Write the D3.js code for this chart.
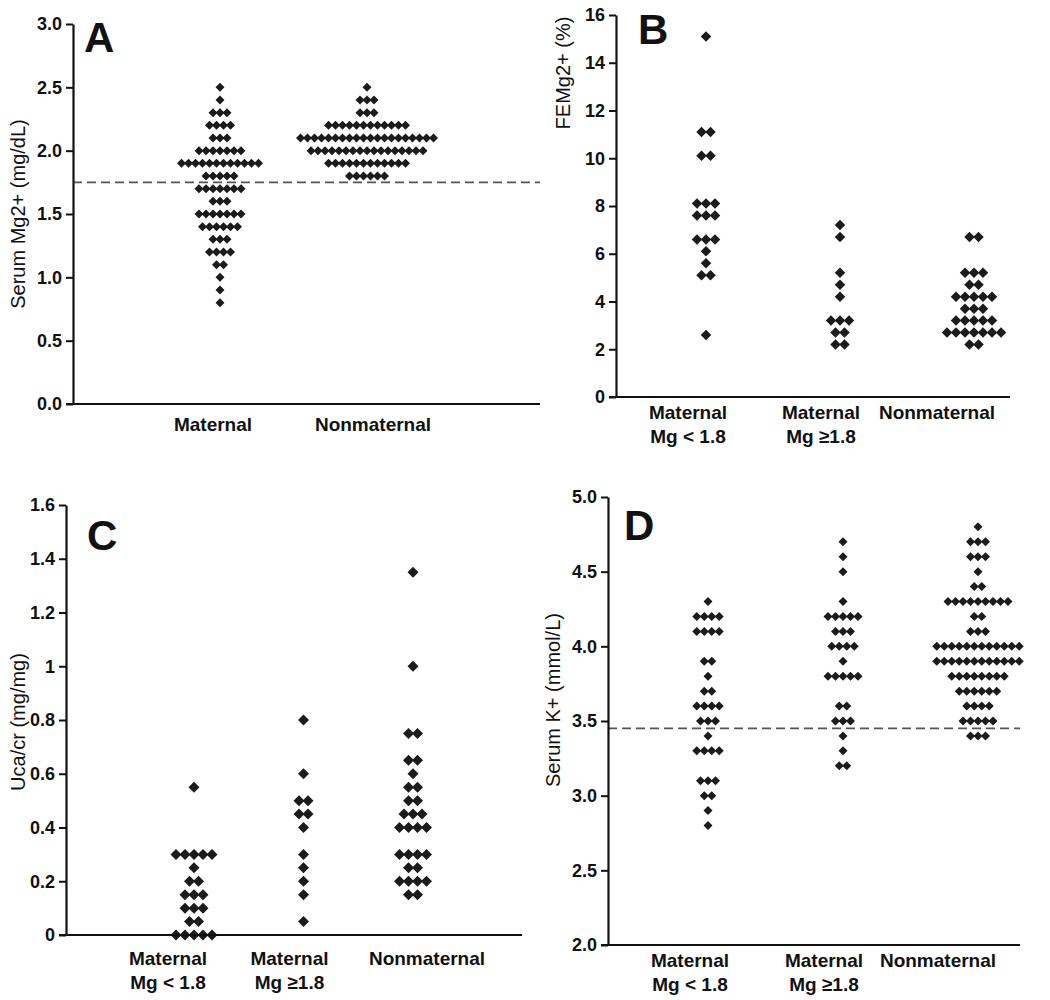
<!DOCTYPE html>
<html><head><meta charset="utf-8">
<script src="https://cdn.jsdelivr.net/npm/d3@7"></script>
<style>
body{margin:0;background:#fff}
text{font-family:Arial,"Liberation Sans",sans-serif;fill:#111}
</style>
</head><body>
<svg id="chart" width="1050" height="1000"></svg>
<script>
// ---------------- DATA ----------------
// Panel A: Serum Mg2+ (mg/dL)
const aCategories = ["Maternal", "Nonmaternal"];
const aTicks = [0, 0.5, 1.0, 1.5, 2.0, 2.5, 3.0];
const aMaternalLevels = [2.5,2.4,2.3,2.2,2.1,2.0,1.9,1.8,1.7,1.6,1.5,1.4,1.3,1.2,1.1,1.0,0.9,0.8];
const aMaternalCounts = [1,1,3,4,3,7,12,5,7,3,7,6,3,4,2,1,1,1];
const aNonmaternalLevels = [2.5,2.4,2.3,2.2,2.1,2.0,1.9,1.8];
const aNonmaternalCounts = [1,3,3,12,20,17,12,6];
const aCutoff = 1.75;

// Panel B: FEMg2+ (%)
const bCategories = [["Maternal","Mg < 1.8"], ["Maternal","Mg \u22651.8"], ["Nonmaternal"]];
const bTicks = [0,2,4,6,8,10,12,14,16];
const bLowLevels = [15.1,11.1,10.1,8.1,7.6,6.6,6.1,5.6,5.1,2.6];
const bLowCounts = [1,2,2,3,3,3,1,1,2,1];
const bHighLevels = [7.2,6.7,5.2,4.7,4.2,3.2,2.7,2.2];
const bHighCounts = [1,1,1,1,1,3,2,2];
const bNonLevels = [6.7,5.2,4.7,4.2,3.7,3.2,2.7,2.2];
const bNonCounts = [2,3,2,5,3,5,7,2];

// Panel C: Uca/cr (mg/mg)
const cCategories = bCategories;
const cTicks = [0,0.2,0.4,0.6,0.8,1.0,1.2,1.4,1.6];
const cLowLevels = [0.55,0.3,0.25,0.2,0.15,0.1,0.05,0];
const cLowCounts = [1,5,1,2,3,3,2,5];
const cHighLevels = [0.8,0.6,0.5,0.45,0.4,0.3,0.25,0.2,0.15,0.05];
const cHighCounts = [1,1,2,2,1,1,1,1,1,1];
const cNonLevels = [1.35,1.0,0.75,0.65,0.6,0.55,0.5,0.45,0.4,0.3,0.25,0.2,0.15];
const cNonCounts = [1,1,2,2,1,2,2,3,4,4,2,4,2];

// Panel D: Serum K+ (mmol/L)
const dCategories = bCategories;
const dTicks = [2.0,2.5,3.0,3.5,4.0,4.5,5.0];
const dLowLevels = [4.3,4.2,4.1,3.9,3.8,3.7,3.6,3.5,3.4,3.3,3.1,3.0,2.9,2.8];
const dLowCounts = [1,4,4,2,1,2,4,3,1,4,3,2,1,1];
const dHighLevels = [4.7,4.6,4.5,4.3,4.2,4.1,4.0,3.9,3.8,3.6,3.5,3.4,3.3,3.2];
const dHighCounts = [1,1,1,1,5,3,4,1,5,2,3,1,1,2];
const dNonLevels = [4.8,4.7,4.6,4.5,4.4,4.3,4.2,4.1,4.0,3.9,3.8,3.7,3.6,3.5,3.4];
const dNonCounts = [1,3,3,1,2,9,2,3,12,12,8,6,4,5,3];
const dCutoff = 3.45;

// ---------------- DRAWING ----------------
const svg = d3.select("#chart");

function drawPanel(p) {
  const g = svg.append("g");
  const y = d3.scaleLinear().domain(p.yDomain).range([p.yBottom, p.yTop]);
  const keys = p.categories.map((c, i) => i);
  const x = d3.scalePoint().domain(keys).range(p.colRange);

  if (p.cutoff != null) {
    g.append("line")
      .attr("x1", p.axisX).attr("x2", p.xRight)
      .attr("y1", y(p.cutoff)).attr("y2", y(p.cutoff))
      .attr("stroke", "#555").attr("stroke-width", 1.8)
      .attr("stroke-dasharray", "9,5");
  }

  const dots = [];
  p.series.forEach((s, ci) => {
    s.levels.forEach((v, ri) => {
      const n = s.counts[ri];
      for (let k = 0; k < n; k++) {
        dots.push({ x: x(ci) + (k - (n - 1) / 2) * p.spacing, y: y(v) });
      }
    });
  });
  const h = p.dot / 2;
  g.selectAll("path.dot").data(dots).enter().append("path")
    .attr("class", "dot")
    .attr("d", d => `M${d.x},${d.y - h}L${d.x + h},${d.y}L${d.x},${d.y + h}L${d.x - h},${d.y}Z`)
    .attr("fill", "#1b1b1b");

  const ax = d3.axisLeft(y).tickValues(p.ticks).tickFormat(p.fmt)
    .tickSize(7).tickSizeOuter(0).tickPadding(4);
  const axg = g.append("g").attr("transform", `translate(${p.axisX},0)`).call(ax);
  axg.select(".domain").attr("stroke", "#111").attr("stroke-width", 2.2);
  axg.selectAll(".tick line").attr("stroke", "#111").attr("stroke-width", 2);
  axg.selectAll(".tick text").attr("font-size", 18).attr("font-weight", "bold")
    .attr("font-family", "Arial, 'Liberation Sans', sans-serif").attr("fill", "#111");

  g.append("line")
    .attr("x1", p.axisX - 7).attr("x2", p.xRight)
    .attr("y1", y(p.yDomain[0])).attr("y2", y(p.yDomain[0]))
    .attr("stroke", "#111").attr("stroke-width", 2.2);

  p.categories.forEach((lines, ci) => {
    const t = g.append("text")
      .attr("x", x(ci) + p.labelDx[ci])
      .attr("y", y(p.yDomain[0]) + p.labelDy)
      .attr("text-anchor", "middle").attr("font-size", 19).attr("font-weight", "bold");
    (Array.isArray(lines) ? lines : [lines]).forEach((ln, li) => {
      t.append("tspan").attr("x", x(ci) + p.labelDx[ci]).attr("dy", li === 0 ? 0 : 24).text(ln);
    });
  });

  g.append("text")
    .attr("transform", `translate(${p.titleX},${p.titleY}) rotate(-90)`)
    .attr("text-anchor", "middle").attr("dy", "0.35em")
    .attr("font-size", 20).text(p.title);

  g.append("text").attr("x", p.letterX).attr("y", p.letterY)
    .attr("font-size", 42).attr("font-weight", "bold").text(p.letter);
}

drawPanel({
  letter: "A", letterX: 84, letterY: 52,
  title: "Serum Mg2+ (mg/dL)", titleX: 18, titleY: 214,
  yDomain: [0, 3], yTop: 24, yBottom: 404, axisX: 73, xRight: 540,
  ticks: aTicks, fmt: d3.format(".1f"),
  categories: aCategories, colRange: [220, 367], labelDx: [-7, 6], labelDy: 27,
  series: [{levels: aMaternalLevels, counts: aMaternalCounts},
           {levels: aNonmaternalLevels, counts: aNonmaternalCounts}],
  cutoff: aCutoff, dot: 9, spacing: 7
});

drawPanel({
  letter: "B", letterX: 638, letterY: 44,
  title: "FEMg2+ (%)", titleX: 563, titleY: 73,
  yDomain: [0, 16], yTop: 15, yBottom: 397, axisX: 616, xRight: 1010,
  ticks: bTicks, fmt: d3.format("d"),
  categories: bCategories, colRange: [706, 974], labelDx: [-18, -19, -37], labelDy: 22,
  series: [{levels: bLowLevels, counts: bLowCounts},
           {levels: bHighLevels, counts: bHighCounts},
           {levels: bNonLevels, counts: bNonCounts}],
  cutoff: null, dot: 10.5, spacing: 9
});

drawPanel({
  letter: "C", letterX: 87, letterY: 550,
  title: "Uca/cr (mg/mg)", titleX: 18, titleY: 722,
  yDomain: [0, 1.6], yTop: 505, yBottom: 935, axisX: 66, xRight: 522,
  ticks: cTicks, fmt: d => d === 0 ? "0" : (d === 1 ? "1" : d3.format(".1f")(d)),
  categories: cCategories, colRange: [194, 413], labelDx: [-26, -14, 14], labelDy: 30,
  series: [{levels: cLowLevels, counts: cLowCounts},
           {levels: cHighLevels, counts: cHighCounts},
           {levels: cNonLevels, counts: cNonCounts}],
  cutoff: null, dot: 11, spacing: 9
});

drawPanel({
  letter: "D", letterX: 624, letterY: 540,
  title: "Serum K+ (mmol/L)", titleX: 553, titleY: 700,
  yDomain: [2, 5], yTop: 497, yBottom: 945, axisX: 608, xRight: 1020,
  ticks: dTicks, fmt: d3.format(".1f"),
  categories: dCategories, colRange: [708, 978], labelDx: [-18, -19, -40], labelDy: 22,
  series: [{levels: dLowLevels, counts: dLowCounts},
           {levels: dHighLevels, counts: dHighCounts},
           {levels: dNonLevels, counts: dNonCounts}],
  cutoff: dCutoff, dot: 9, spacing: 7.5
});
</script>
</body></html>
